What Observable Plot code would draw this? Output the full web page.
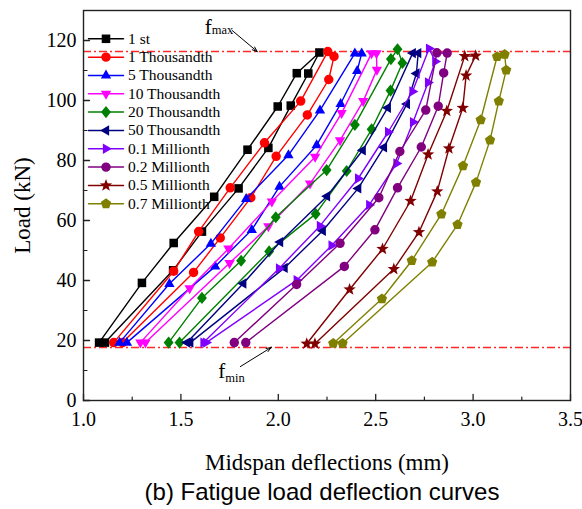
<!DOCTYPE html>
<html><head><meta charset="utf-8">
<script src="https://cdn.jsdelivr.net/npm/d3@7"></script>
<script src="https://cdn.jsdelivr.net/npm/@observablehq/plot@0.6"></script>
<style>
body{margin:0;background:#fff;}
#chart{width:582px;height:478px;}
#caption{font-family:"Liberation Sans",Arial,sans-serif;font-size:24px;line-height:28px;text-align:center;width:582px;padding-left:62px;box-sizing:border-box;color:#000;}
</style></head><body><div id="chart"></div><div id="caption"></div>
<script>
// ---- text ----
const xLabel = "Midspan deflections (mm)";
const yLabel = "Load (kN)";
const captionText = "(b) Fatigue load deflection curves";
// ---- ticks ----
const xTicks = [1.0, 1.5, 2.0, 2.5, 3.0, 3.5];
const xMinor = [1.25, 1.75, 2.25, 2.75, 3.25];
const yTicks = [0, 20, 40, 60, 80, 100, 120];
const yMinor = [10, 30, 50, 70, 90, 110];
// ---- reference loads ----
const fmax = 116.3, fmin = 17.7;
// annotation anchors (mm, kN)
const fmaxText = [1.64, 124.3], fmaxSub = [1.658, 123.4], fmaxArrow = [1.764, 123.3, 1.892];
const fminText = [1.71, 9.9], fminSub = [1.728, 7.5], fminArrow = [1.805, 11.3, 1.964];
// ---- series ----
const seriesNames = ["1 st","1 Thousandth","5 Thousandth","10 Thousandth","20 Thousandth","50 Thousandth","0.1 Millionth","0.2 Millionth","0.5 Millionth","0.7 Millionth"];
const seriesColors = ["#000000","#ff0000","#0000ff","#ff00ff","#008000","#000080","#8000ff","#800080","#800000","#808000"];
const x_1st  = [1.08, 1.30, 1.463, 1.671, 1.842, 1.997, 2.095, 2.211, 2.154, 2.064, 1.949, 1.796, 1.608, 1.460, 1.11];
const y_1st  = [19.3, 39.2, 52.5, 67.9, 83.6, 98.0, 109.1, 116.0, 109.0, 98.3, 84.2, 70.7, 56.3, 43.4, 19.3];
const x_1k   = [1.155, 1.463, 1.591, 1.753, 1.929, 2.115, 2.254, 2.286, 2.259, 2.149, 1.989, 1.859, 1.702, 1.565, 1.20];
const y_1k   = [19.3, 43.1, 56.3, 70.9, 85.9, 99.8, 116.3, 114.7, 107.0, 95.2, 81.4, 67.6, 54.2, 42.7, 19.3];
const x_5k   = [1.185, 1.441, 1.654, 1.835, 2.052, 2.214, 2.393, 2.428, 2.405, 2.320, 2.197, 2.006, 1.864, 1.676, 1.223];
const y_5k   = [19.3, 38.9, 52.3, 67.2, 81.8, 96.7, 115.7, 115.7, 109.9, 98.9, 85.1, 71.3, 56.9, 44.7, 19.3];
const x_10k  = [1.292, 1.545, 1.744, 1.967, 2.189, 2.325, 2.479, 2.504, 2.506, 2.436, 2.317, 2.163, 1.949, 1.750, 1.318];
const y_10k  = [19.3, 37.4, 50.6, 66.3, 81.2, 95.8, 115.7, 115.7, 110.2, 99.8, 86.7, 72.3, 58.0, 45.8, 19.3];
const x_20k  = [1.437, 1.608, 1.809, 1.987, 2.248, 2.393, 2.578, 2.612, 2.637, 2.576, 2.479, 2.351, 2.192, 1.953, 1.493];
const y_20k  = [19.3, 34.2, 46.6, 61.1, 76.8, 91.9, 113.8, 117.1, 112.5, 103.3, 90.4, 76.5, 62.2, 49.7, 19.3];
const x_50k  = [1.531, 1.820, 2.009, 2.25, 2.433, 2.562, 2.69, 2.718, 2.709, 2.66, 2.542, 2.41, 2.228, 2.032, 1.548];
const y_50k  = [19.3, 39.0, 52.8, 68.1, 83.4, 97.6, 115.8, 115.8, 109.0, 98.8, 84.4, 70.7, 56.6, 44.2, 19.3];
const x_01m  = [1.616, 2.004, 2.214, 2.41, 2.564, 2.689, 2.774, 2.806, 2.769, 2.692, 2.607, 2.467, 2.274, 2.095, 1.630];
const y_01m  = [19.3, 44.0, 58.2, 74.0, 89.5, 103.0, 117.3, 113.0, 106.0, 92.8, 79.0, 65.2, 51.7, 40.1, 19.3];
const x_02m  = [1.774, 2.094, 2.317, 2.516, 2.624, 2.757, 2.814, 2.867, 2.849, 2.821, 2.734, 2.612, 2.496, 2.339, 1.833];
const y_02m  = [19.3, 38.7, 52.4, 67.6, 83.0, 96.8, 115.9, 115.8, 109.2, 98.1, 84.5, 70.9, 56.9, 44.7, 19.3];
const x_05m  = [2.146, 2.366, 2.535, 2.679, 2.769, 2.865, 2.957, 3.013, 2.964, 2.947, 2.876, 2.816, 2.722, 2.593, 2.188];
const y_05m  = [18.9, 37.0, 50.5, 66.5, 82.0, 96.5, 114.8, 114.9, 108.3, 97.5, 84.0, 69.7, 56.1, 43.8, 18.9];
const x_07m  = [2.282, 2.532, 2.685, 2.837, 2.948, 3.039, 3.123, 3.162, 3.170, 3.132, 3.087, 3.015, 2.920, 2.790, 2.330];
const y_07m  = [19.0, 33.9, 46.6, 62.1, 78.2, 93.5, 114.6, 115.4, 110.1, 99.8, 86.8, 72.7, 58.6, 46.1, 19.0];

const seriesX = [x_1st, x_1k, x_5k, x_10k, x_20k, x_50k, x_01m, x_02m, x_05m, x_07m];
const seriesY = [y_1st, y_1k, y_5k, y_10k, y_20k, y_50k, y_01m, y_02m, y_05m, y_07m];

// ---- marker shapes ----
function poly(pts) {
  return {draw(ctx, size) {
    const r = Math.sqrt(size / Math.PI);
    pts.forEach(([a, b], i) => i ? ctx.lineTo(a * r, b * r) : ctx.moveTo(a * r, b * r));
    ctx.closePath();
  }};
}
function regular(n, rad, inner) {
  const pts = [];
  const m = inner ? 2 * n : n;
  for (let i = 0; i < m; i++) {
    const ang = -Math.PI / 2 + i * 2 * Math.PI / m;
    const rr = inner && i % 2 ? inner : rad;
    pts.push([rr * Math.cos(ang), rr * Math.sin(ang)]);
  }
  return poly(pts);
}
const symSquare = poly([[-0.95,-0.95],[0.95,-0.95],[0.95,0.95],[-0.95,0.95]]);
const symCircle = {draw(ctx, size) { const r = Math.sqrt(size / Math.PI) * 1.05; ctx.moveTo(r, 0); ctx.arc(0, 0, r, 0, 2 * Math.PI); }};
const symUp = poly([[0,-1.3],[1.15,0.7],[-1.15,0.7]]);
const symDown = poly([[0,1.3],[1.15,-0.7],[-1.15,-0.7]]);
const symLeft = poly([[-1.3,0],[0.7,-1.15],[0.7,1.15]]);
const symRight = poly([[1.3,0],[-0.7,-1.15],[-0.7,1.15]]);
const symDiamond = poly([[0,-1.35],[1.1,0],[0,1.35],[-1.1,0]]);
const symStar = regular(5, 1.45, 0.6);
const symPent = regular(5, 1.2);
const seriesSymbols = [symSquare, symCircle, symUp, symDown, symDiamond, symLeft, symRight, symCircle, symStar, symPent];

const lineShape = {draw(ctx, l) { ctx.moveTo(0, 0); ctx.lineTo(0, -l); }};

const data = seriesNames.map((name, i) => seriesX[i].map((x, j) => ({name, x, y: seriesY[i][j]})));

const marks = [];
marks.push(Plot.ruleY([fmax, fmin], {stroke: "#ff2a2a", strokeWidth: 1.5, strokeDasharray: "8,3,2,3"}));
data.forEach((d, i) => {
  marks.push(Plot.line(d, {x: "x", y: "y", stroke: seriesColors[i], strokeWidth: 1.4}));
  marks.push(Plot.dot(d, {x: "x", y: "y", symbol: seriesSymbols[i], r: 4.5, fill: seriesColors[i], stroke: "none"}));
});
// legend inside frame
seriesNames.forEach((name, i) => {
  const dy = 28.3 + i * 18.33;
  marks.push(Plot.vector([name], {frameAnchor: "top-left", dx: 5, dy, length: 35, rotate: 90, anchor: "start", shape: lineShape, stroke: seriesColors[i], strokeWidth: 1.5}));
  marks.push(Plot.dot([name], {frameAnchor: "top-left", dx: 22.5, dy, symbol: seriesSymbols[i], r: 4.5, fill: seriesColors[i], stroke: "none"}));
  marks.push(Plot.text([name], {frameAnchor: "top-left", dx: 44.5, dy, text: d => d, textAnchor: "start", lineAnchor: "middle", fontSize: 15.5, fill: "#000"}));
});
// annotations
marks.push(Plot.text(["f"], {x: fmaxText[0], y: fmaxText[1], text: d => d, fontSize: 21, fill: "#000"}));
marks.push(Plot.text(["max"], {x: fmaxSub[0], y: fmaxSub[1], text: d => d, fontSize: 12.5, textAnchor: "start", fill: "#000"}));
marks.push(Plot.arrow([0], {x1: fmaxArrow[0], y1: fmaxArrow[1], x2: fmaxArrow[2], y2: fmax, stroke: "#000", strokeWidth: 1, headLength: 8, headAngle: 40}));
marks.push(Plot.text(["f"], {x: fminText[0], y: fminText[1], text: d => d, fontSize: 21, fill: "#000"}));
marks.push(Plot.text(["min"], {x: fminSub[0], y: fminSub[1], text: d => d, fontSize: 12.5, textAnchor: "start", fill: "#000"}));
marks.push(Plot.arrow([0], {x1: fminArrow[0], y1: fminArrow[1], x2: fminArrow[2], y2: fmin, stroke: "#000", strokeWidth: 1, headLength: 8, headAngle: 40}));
// axes (inward ticks)
marks.push(Plot.vector(xTicks, {x: d => d, frameAnchor: "bottom", length: 6, anchor: "start", shape: lineShape, stroke: "#222", strokeWidth: 1.3}));
marks.push(Plot.vector(xMinor, {x: d => d, frameAnchor: "bottom", length: 3.5, anchor: "start", shape: lineShape, stroke: "#222", strokeWidth: 1.2}));
marks.push(Plot.vector(yTicks, {y: d => d, frameAnchor: "left", length: 6, rotate: 90, anchor: "start", shape: lineShape, stroke: "#222", strokeWidth: 1.3}));
marks.push(Plot.vector(yMinor, {y: d => d, frameAnchor: "left", length: 3.5, rotate: 90, anchor: "start", shape: lineShape, stroke: "#222", strokeWidth: 1.2}));
marks.push(Plot.text(xTicks, {x: d => d, frameAnchor: "bottom", dy: 11, lineAnchor: "top", textAnchor: "middle", text: d => d.toFixed(1), fontSize: 20, fill: "#000"}));
marks.push(Plot.text(yTicks, {y: d => d, frameAnchor: "left", dx: -7, lineAnchor: "middle", textAnchor: "end", text: d => String(d), fontSize: 20, fill: "#000"}));
marks.push(Plot.text([xLabel], {frameAnchor: "bottom", dy: 62, lineAnchor: "middle", textAnchor: "middle", text: d => d, fontSize: 23, fill: "#000"}));
marks.push(Plot.text([yLabel], {frameAnchor: "left", dx: -61, rotate: -90, lineAnchor: "middle", textAnchor: "middle", text: d => d, fontSize: 23, fill: "#000"}));
marks.push(Plot.frame({stroke: "#222", strokeWidth: 1.4}));

const chart = Plot.plot({
  width: 582, height: 478,
  marginLeft: 83, marginRight: 12, marginTop: 10, marginBottom: 78,
  x: {domain: [1.0, 3.5], axis: null},
  y: {domain: [0, 130], axis: null},
  style: {fontFamily: "'Liberation Serif','Times New Roman',serif", background: "#fff", overflow: "visible"},
  marks
});
document.getElementById("chart").appendChild(chart);
document.getElementById("caption").textContent = captionText;
</script></body></html>
